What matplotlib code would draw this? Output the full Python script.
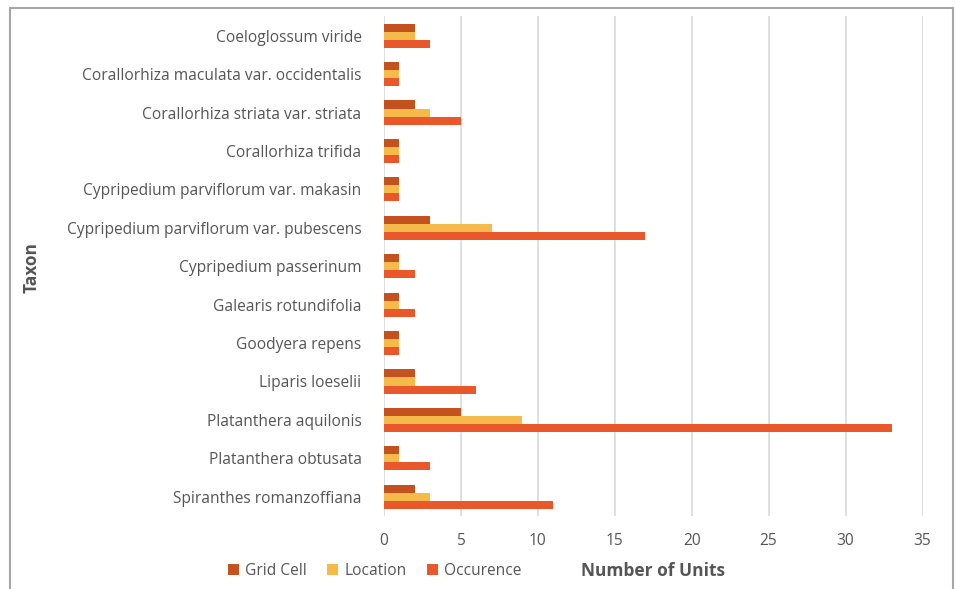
import matplotlib.pyplot as plt
import numpy as np
from matplotlib.patches import Rectangle

plt.rcParams["font.family"] = ["Open Sans", "DejaVu Sans"]

taxa = [
    "Coeloglossum viride",
    "Corallorhiza maculata var. occidentalis",
    "Corallorhiza striata var. striata",
    "Corallorhiza trifida",
    "Cypripedium parviflorum var. makasin",
    "Cypripedium parviflorum var. pubescens",
    "Cypripedium passerinum",
    "Galearis rotundifolia",
    "Goodyera repens",
    "Liparis loeselii",
    "Platanthera aquilonis",
    "Platanthera obtusata",
    "Spiranthes romanzoffiana",
]
grid_cell = [2, 1, 2, 1, 1, 3, 1, 1, 1, 2, 5, 1, 2]
location = [2, 1, 3, 1, 1, 7, 1, 1, 1, 2, 9, 1, 3]
occurence = [3, 1, 5, 1, 1, 17, 2, 2, 1, 6, 33, 3, 11]

series = [
    ("Grid Cell", grid_cell, "#C4521E"),
    ("Location", location, "#F6BA4A"),
    ("Occurence", occurence, "#E9582A"),
]

text_color = "#555555"

fig = plt.figure(figsize=(9.56, 5.89), dpi=100)
ax = fig.add_axes([0.4015, 0.124, 0.5635, 0.848])

y = np.arange(len(taxa), dtype=float)
h = 0.21
for i, (name, vals, color) in enumerate(series):
    ax.barh(y + (i - 1) * h, vals, height=h, color=color, label=name, zorder=3)

ax.set_ylim(len(taxa) - 0.5, -0.5)
ax.set_xlim(0, 35)
ax.set_xticks(range(0, 36, 5))
ax.set_yticks(y)
ax.set_yticklabels(taxa)
ax.tick_params(axis="both", length=0, colors=text_color, labelsize=11.2)
ax.tick_params(axis="y", pad=16)
ax.tick_params(axis="x", pad=12)
ax.grid(axis="x", color="#D9D9D9", linewidth=1.2, zorder=0)
for s in ax.spines.values():
    s.set_visible(False)

fig.text(0.033, 0.545, "Taxon", rotation=90, ha="center", va="center",
         fontsize=12.5, fontweight="bold", color=text_color)
fig.text(0.683, 0.03, "Number of Units", ha="center", va="center",
         fontsize=12.5, fontweight="bold", color=text_color)

ax.legend(loc="center", bbox_to_anchor=(0.392, 0.03), bbox_transform=fig.transFigure,
          ncol=3, frameon=False, fontsize=11.2, handlelength=0.7, handleheight=0.7,
          handletextpad=0.4, columnspacing=1.3, labelcolor=text_color)

fig.patches.append(Rectangle((10 / 956, -0.02), 943 / 956, 1.02 - 8 / 589,
                             transform=fig.transFigure, fill=False,
                             edgecolor="#A6A6A6", linewidth=1.5))

fig.savefig("out.png", dpi=100)
